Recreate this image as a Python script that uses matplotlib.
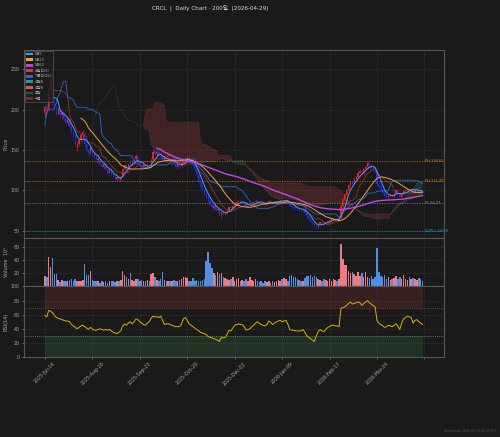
"""CRCL daily chart: candles + MA + ichimoku, volume, RSI"""

import numpy as np
import pandas as pd
import matplotlib
matplotlib.use('Agg')
import matplotlib.pyplot as plt
from matplotlib.patches import Patch

plt.rcParams['font.family'] = ['DejaVu Sans', 'Noto Sans CJK KR']

TITLE = 'CRCL  |  Daily Chart · 200일  (2026-04-29)'
FOOTER = 'Generated: 2026-04-29 05:51 KST'

# bars before the 200-day window (since IPO), only used for ichimoku
hist_open = [69, 97, 115, 115, 108, 110, 120, 145, 150, 165, 210, 280, 250,
             215, 215, 200, 182, 178, 188, 190, 190, 195, 198, 198, 202]
hist_high = [104, 124, 118, 118, 112, 116, 138, 165, 155, 200, 248, 299, 255,
             225, 220, 205, 190, 190, 195, 195, 198, 200, 203, 205, 212]
hist_low = [64, 94, 106, 104, 102, 105, 118, 135, 142, 160, 205, 235, 215,
            205, 200, 175, 175, 172, 180, 185, 185, 188, 190, 192, 198]
hist_close = [83, 108, 117, 108, 109, 115, 133, 151, 151, 200, 240, 263, 222,
              213, 213, 180, 181, 186, 189, 189, 193, 197, 198, 200, 208]

# 200-day window
open_ = [
    196, 203, 200, 224, 250, 207, 202, 195, 200, 193,
    195, 189, 184, 187, 178, 172, 168, 152, 157, 163,
    169, 170, 157, 150, 146, 151, 145, 141, 138, 138,
    133, 129, 131, 127, 122, 124, 120, 117, 114, 116,
    113, 118, 126, 131, 127, 135, 133, 136, 139, 143,
    134, 131, 129, 131, 128, 131, 130, 139, 149, 145,
    147, 143, 141, 137, 140, 137, 139, 135, 138, 133,
    129, 132, 130, 134, 136, 139, 141, 136, 134, 131,
    126, 119, 110, 105, 101, 96, 91, 87, 83, 78,
    80, 75, 77, 70, 73, 70, 72, 75, 79, 78,
    81, 83, 85, 87, 85, 86, 83, 79, 80, 81,
    83, 85, 87, 86, 85, 84, 83, 82, 84, 87,
    86, 84, 85, 86, 87, 88, 86, 87, 88, 86,
    80, 79, 79, 78, 77, 76, 75, 76, 72, 68,
    64, 61, 58, 55, 54, 58, 60, 59, 58, 60,
    62, 63, 64, 64, 64, 63, 65, 80, 88, 94,
    100, 106, 111, 109, 114, 117, 122, 124, 121, 126,
    129, 134, 131, 128, 126, 123, 108, 104, 101, 97,
    93, 91, 93, 95, 93, 96, 100, 97, 92, 95,
    99, 100, 102, 101, 102, 98, 100, 101, 99, 98,
]
high = [
    206, 207, 228, 250, 258, 212, 205, 203, 202, 198,
    197, 192, 190, 189, 181, 175, 170, 160, 164, 170,
    175, 174, 160, 152, 156, 153, 147, 144, 141, 139,
    135, 134, 133, 128, 127, 126, 122, 119, 118, 117,
    118, 128, 133, 132, 133, 142, 137, 140, 145, 144,
    136, 133, 134, 132, 132, 132, 140, 152, 152, 149,
    148, 146, 143, 142, 141, 141, 140, 139, 139, 134,
    133, 133, 135, 137, 140, 143, 142, 138, 136, 132,
    127, 121, 113, 107, 103, 98, 94, 89, 85, 82,
    81, 78, 78, 73, 75, 74, 77, 80, 81, 82,
    85, 87, 88, 88, 87, 87, 84, 81, 82, 84,
    86, 88, 89, 87, 86, 85, 84, 85, 88, 88,
    87, 86, 87, 88, 89, 89, 88, 89, 89, 86,
    81, 80, 80, 79, 78, 77, 77, 77, 73, 69,
    65, 62, 59, 57, 59, 61, 62, 60, 61, 63,
    64, 65, 66, 66, 65, 65, 84, 92, 97, 102,
    108, 112, 113, 116, 119, 124, 126, 125, 128, 131,
    136, 135, 133, 130, 128, 124, 111, 106, 102, 99,
    95, 94, 96, 96, 97, 101, 101, 98, 96, 100,
    101, 103, 103, 103, 103, 101, 102, 102, 100, 99,
]
low = [
    190, 195, 199, 220, 203, 198, 192, 193, 190, 188,
    186, 181, 180, 176, 170, 166, 155, 148, 155, 160,
    164, 155, 148, 143, 145, 143, 139, 135, 134, 131,
    127, 127, 125, 120, 121, 118, 115, 112, 111, 111,
    112, 117, 124, 125, 126, 131, 130, 134, 136, 132,
    129, 127, 128, 126, 127, 127, 129, 138, 143, 143,
    141, 139, 135, 136, 135, 136, 134, 134, 132, 127,
    128, 128, 129, 132, 135, 137, 135, 132, 130, 124,
    117, 108, 102, 98, 94, 89, 85, 81, 77, 76,
    74, 73, 69, 66, 69, 69, 71, 74, 76, 77,
    80, 82, 84, 84, 84, 82, 78, 78, 79, 80,
    82, 84, 86, 84, 83, 82, 81, 81, 83, 85,
    83, 83, 84, 85, 86, 85, 85, 86, 85, 79,
    77, 77, 76, 75, 74, 73, 74, 71, 67, 63,
    60, 57, 54, 52, 53, 57, 58, 57, 57, 59,
    61, 62, 63, 62, 62, 62, 64, 78, 86, 92,
    99, 104, 106, 108, 113, 116, 120, 119, 120, 125,
    128, 129, 127, 125, 122, 105, 102, 98, 95, 91,
    89, 89, 91, 91, 92, 95, 96, 91, 91, 94,
    98, 99, 100, 100, 97, 97, 99, 98, 97, 95,
]
close = [
    204, 198, 222, 245, 208, 201, 195, 201, 193, 196,
    189, 184, 188, 178, 173, 169, 158, 157, 162, 168,
    172, 157, 150, 145, 152, 146, 141, 137, 139, 133,
    129, 132, 127, 122, 125, 120, 117, 114, 116, 113,
    117, 126, 131, 127, 132, 133, 135, 138, 142, 134,
    131, 129, 132, 128, 131, 129, 138, 148, 145, 147,
    143, 141, 137, 140, 137, 139, 135, 138, 133, 129,
    132, 130, 134, 136, 139, 141, 136, 134, 132, 126,
    119, 110, 104, 101, 96, 92, 87, 83, 79, 81,
    75, 77, 70, 73, 70, 72, 75, 79, 78, 81,
    83, 85, 87, 85, 86, 83, 79, 80, 81, 83,
    85, 87, 86, 85, 84, 83, 82, 84, 87, 86,
    84, 85, 86, 87, 88, 86, 87, 88, 86, 80,
    79, 78, 78, 77, 76, 75, 76, 72, 68, 64,
    61, 58, 55, 54, 58, 60, 59, 58, 60, 62,
    63, 64, 65, 64, 63, 64, 81, 89, 95, 100,
    106, 110, 108, 114, 117, 122, 124, 121, 126, 129,
    134, 131, 128, 126, 123, 108, 104, 101, 97, 93,
    91, 93, 95, 93, 96, 100, 97, 92, 95, 99,
    100, 102, 101, 102, 98, 100, 101, 99, 98, 96,
]
# volume in millions
volume = [
    15.5, 15, 44, 29, 43, 19.5, 19.5, 10, 7, 9.5,
    8, 9, 8, 10, 10.7, 9, 12, 9, 8, 9,
    10, 34, 18, 18, 23, 10, 9, 8, 8, 6,
    9, 7, 8, 6, 8, 8, 9, 7, 8, 9,
    10, 23, 17, 14, 11, 20, 10, 9, 12, 11,
    9, 10, 8, 9, 10, 9, 19.5, 20, 14, 10,
    9, 12, 22, 10, 9, 8, 9, 8, 10, 9,
    8, 10, 12, 15, 14, 13, 8, 8, 13, 9,
    10, 9, 8, 10, 12, 38, 52, 35, 28, 20,
    17, 22, 19, 21, 15, 13, 12, 10, 12, 14,
    9, 11, 13, 9, 10, 8, 12, 9, 14, 10,
    8, 12, 9, 7, 8, 6, 9, 7, 8, 6,
    9, 7, 8, 10, 9, 12, 13, 11, 9, 16,
    18, 14, 15, 12, 10, 9, 8, 13, 16, 16,
    17, 15, 16, 14, 12, 10, 9, 12, 10, 8,
    11, 9, 12, 10, 9, 12, 64, 42, 33, 32,
    24, 21, 22, 19, 16, 22, 16, 21, 15, 22,
    14, 13, 16, 12, 15, 58, 22, 16, 14, 17,
    12, 15, 10, 11, 13, 16, 12, 14, 11, 18,
    12, 10, 14, 11, 13, 12, 10, 13, 11, 8,
]
rsi = [
    59, 57, 66, 65, 63, 59, 56, 55, 54, 53,
    52, 51, 51, 50, 46, 44, 42, 40, 42, 44,
    45, 43, 41, 39, 42, 40, 38, 38, 39, 40,
    39, 38, 39, 38, 39, 37, 35, 34, 33, 35,
    37, 44, 47, 45, 48, 50, 47, 50, 54, 53,
    50, 48, 46, 45, 48, 50, 55, 58, 57, 57,
    56, 58, 52, 46, 47, 47, 46, 45, 44, 43,
    43, 43, 47, 54, 56, 52, 47, 45, 43, 41,
    39, 37, 35, 34, 33, 32, 29, 28, 27, 26,
    25, 24, 22, 28, 27, 28, 32, 38, 37, 41,
    45, 46, 47, 46, 46, 43, 38, 39, 40, 43,
    45, 48, 50, 48, 46, 45, 44, 46, 51, 49,
    46, 48, 50, 51, 52, 50, 51, 52, 47, 39,
    38, 38, 37, 37, 37, 37, 39, 35, 30, 28,
    26, 24, 22, 30, 36, 39, 37, 36, 39, 42,
    43, 45, 45, 44, 44, 43, 69, 70, 71, 73,
    76, 78, 75, 76, 77, 78, 77, 73, 76, 78,
    80, 77, 75, 73, 71, 52, 48, 46, 44, 42,
    43, 45, 44, 43, 45, 47, 44, 39, 48, 54,
    56, 58, 57, 56, 48, 52, 53, 50, 48, 46,
]

tick_pos = [0, 25, 50, 75, 100, 125, 150, 175, 200]
tick_labels = ['2025-Jul-14', '2025-Aug-18', '2025-Sep-23', '2025-Oct-28',
               '2025-Dec-03', '2026-Jan-09', '2026-Feb-17', '2026-Mar-24', '']

level_names = ['PH 136.65', 'PH 111.20', 'PL 84.27', '52W L 49.90']
level_values = [136.65, 111.20, 84.27, 49.90]
level_colors = ['#d9851f', '#d9851f', '#8796a6', '#16a4c4']

BG = '#1a1a1a'
GRID = '#2a2a2a'
TXT = '#a8a8a8'
UP = '#ff1a1a'
DOWN = '#1a2cff'


def style_axis(ax):
    """dark style"""
    ax.set_facecolor(BG)
    for s in ax.spines.values():
        s.set_color('#565656')
        s.set_linewidth(0.8)
    ax.tick_params(colors=TXT, labelsize=3.4, length=1.5, width=0.4, pad=1.5)
    ax.grid(True, color=GRID, linewidth=0.5)
    ax.set_axisbelow(True)


n = len(close)
x = np.arange(n)
o = np.array(open_, dtype=float)
c = np.array(close, dtype=float)
h = np.array(high, dtype=float)
lo = np.array(low, dtype=float)
up = c >= o

# moving averages on the window only
cs = pd.Series(c)
ma5 = cs.rolling(5).mean()
ma20 = cs.rolling(20).mean()
ma60 = cs.rolling(60).mean()

# ichimoku on full history
fh = pd.Series(hist_high + high, dtype=float)
fl = pd.Series(hist_low + low, dtype=float)
tenkan = (fh.rolling(9).max() + fl.rolling(9).min()) / 2
kijun = (fh.rolling(26).max() + fl.rolling(26).min()) / 2
span_a = ((tenkan + kijun) / 2).shift(26)
span_b = ((fh.rolling(52).max() + fl.rolling(52).min()) / 2).shift(26)
k = len(hist_close)
tenkan, kijun = tenkan.values[k:], kijun.values[k:]
span_a, span_b = span_a.values[k:], span_b.values[k:]

fig = plt.figure(figsize=(5, 4.37), dpi=100, facecolor=BG)
left, width = 0.048, 0.84
ax = fig.add_axes([left, 0.4554, width, 0.4302])
axv = fig.add_axes([left, 0.3444, width, 0.111], sharex=ax)
axr = fig.add_axes([left, 0.1831, width, 0.1613], sharex=ax)
for a in (ax, axv, axr):
    style_axis(a)

# cloud
ax.fill_between(x, span_a, span_b, where=span_b > span_a, color='#8b3535',
                alpha=0.35, linewidth=0, interpolate=True)
ax.fill_between(x, span_a, span_b, where=span_a >= span_b, color='#2f7a5a',
                alpha=0.3, linewidth=0, interpolate=True)
ax.plot(x, span_a, color='#2a9d85', lw=0.6, ls=':', alpha=0.6)
ax.plot(x, span_b, color='#d05050', lw=0.6, ls=':', alpha=0.5)

# horizontal levels
for name, val, col in zip(level_names, level_values, level_colors):
    ax.axhline(val, color=col, lw=0.6, ls=(0, (1.5, 1.5)), alpha=0.75)
    ax.text(200.5, val, name, color=col, fontsize=2.6, va='center', ha='left')

# candles
ax.vlines(x[up], lo[up], h[up], color=UP, lw=0.4)
ax.vlines(x[~up], lo[~up], h[~up], color=DOWN, lw=0.4)
ax.bar(x[up], (c - o)[up], bottom=o[up], width=0.6, color=UP, linewidth=0)
ax.bar(x[~up], (o - c)[~up], bottom=c[~up], width=0.6, color=DOWN, linewidth=0)

ax.plot(x, tenkan, color='#b83030', lw=0.6, alpha=0.85)
ax.plot(x, kijun, color='#2f62c8', lw=0.7, alpha=0.9)
ax.plot(x, ma5, color='#45a0ff', lw=0.7)
ax.plot(x, ma20, color='#f0a040', lw=0.7)
ax.plot(x, ma60, color='#c844ee', lw=1.0)

ax.set_xlim(-11, 210.3)
ax.set_ylim(40.7, 274.2)
ax.set_yticks([50, 100, 150, 200, 250])
ax.set_ylabel('Price', color=TXT, fontsize=3.6)
ax.yaxis.set_label_coords(-0.036, 0.5)
plt.setp(ax.get_xticklabels(), visible=False)

legend_items = [('MA5', '#3d9df5'), ('MA20', '#f5a03c'), ('MA60', '#c040e0'),
                ('전환선(9)', '#e03030'), ('기준선(26)', '#2f62d0'),
                ('선행A', '#20a090'), ('선행B', '#f05050'),
                ('후행', '#1f5a48'), ('구름', '#6a3030')]
handles = [Patch(facecolor=col, edgecolor='none', label=lab)
           for lab, col in legend_items]
leg = ax.legend(handles=handles, loc='upper left', fontsize=2.5,
                frameon=True, facecolor='#1e1e1e', edgecolor='#666666',
                labelcolor=TXT, handlelength=1.8, handleheight=0.9,
                labelspacing=0.45, borderpad=0.4, handletextpad=0.6,
                borderaxespad=0.25)
leg.get_frame().set_linewidth(0.5)

# volume
vol = np.array(volume)
axv.bar(x[up], vol[up], width=0.8, color='#ee7a82', linewidth=0)
axv.bar(x[~up], vol[~up], width=0.8, color='#4f8fe8', linewidth=0)
axv.set_ylim(0, vol.max() * 1.15)
axv.set_yticks([20, 40, 60])
axv.set_ylabel('Volume  10⁶', color=TXT, fontsize=3.6)
axv.yaxis.set_label_coords(-0.036, 0.5)
plt.setp(axv.get_xticklabels(), visible=False)

# rsi
r = np.array(rsi, dtype=float)
axr.fill_between(x, 70, 100, color='#c04040', alpha=0.18, linewidth=0)
axr.fill_between(x, 0, 30, color='#40a060', alpha=0.18, linewidth=0)
axr.axhline(70, color='#b04444', lw=0.5, ls=(0, (1.5, 1.5)))
axr.axhline(30, color='#44a055', lw=0.5, ls=(0, (1.5, 1.5)))
axr.plot(x, r, color='#d4b106', lw=0.7)
axr.set_ylim(0, 100)
axr.set_yticks([0, 20, 40, 60, 80, 100])
axr.set_ylabel('RSI(14)', color=TXT, fontsize=3.6)
axr.yaxis.set_label_coords(-0.036, 0.5)
axr.set_xticks(tick_pos)
axr.set_xticklabels(tick_labels, rotation=45, fontsize=3.4)

fig.text(0.42, 0.9817, TITLE, color='#dddddd', fontsize=4.1,
         ha='center', va='center')
fig.text(0.992, 0.014, FOOTER, color='#555555', fontsize=2.2,
         ha='right', va='center')

fig.savefig('out.png', dpi=100, facecolor=BG)
